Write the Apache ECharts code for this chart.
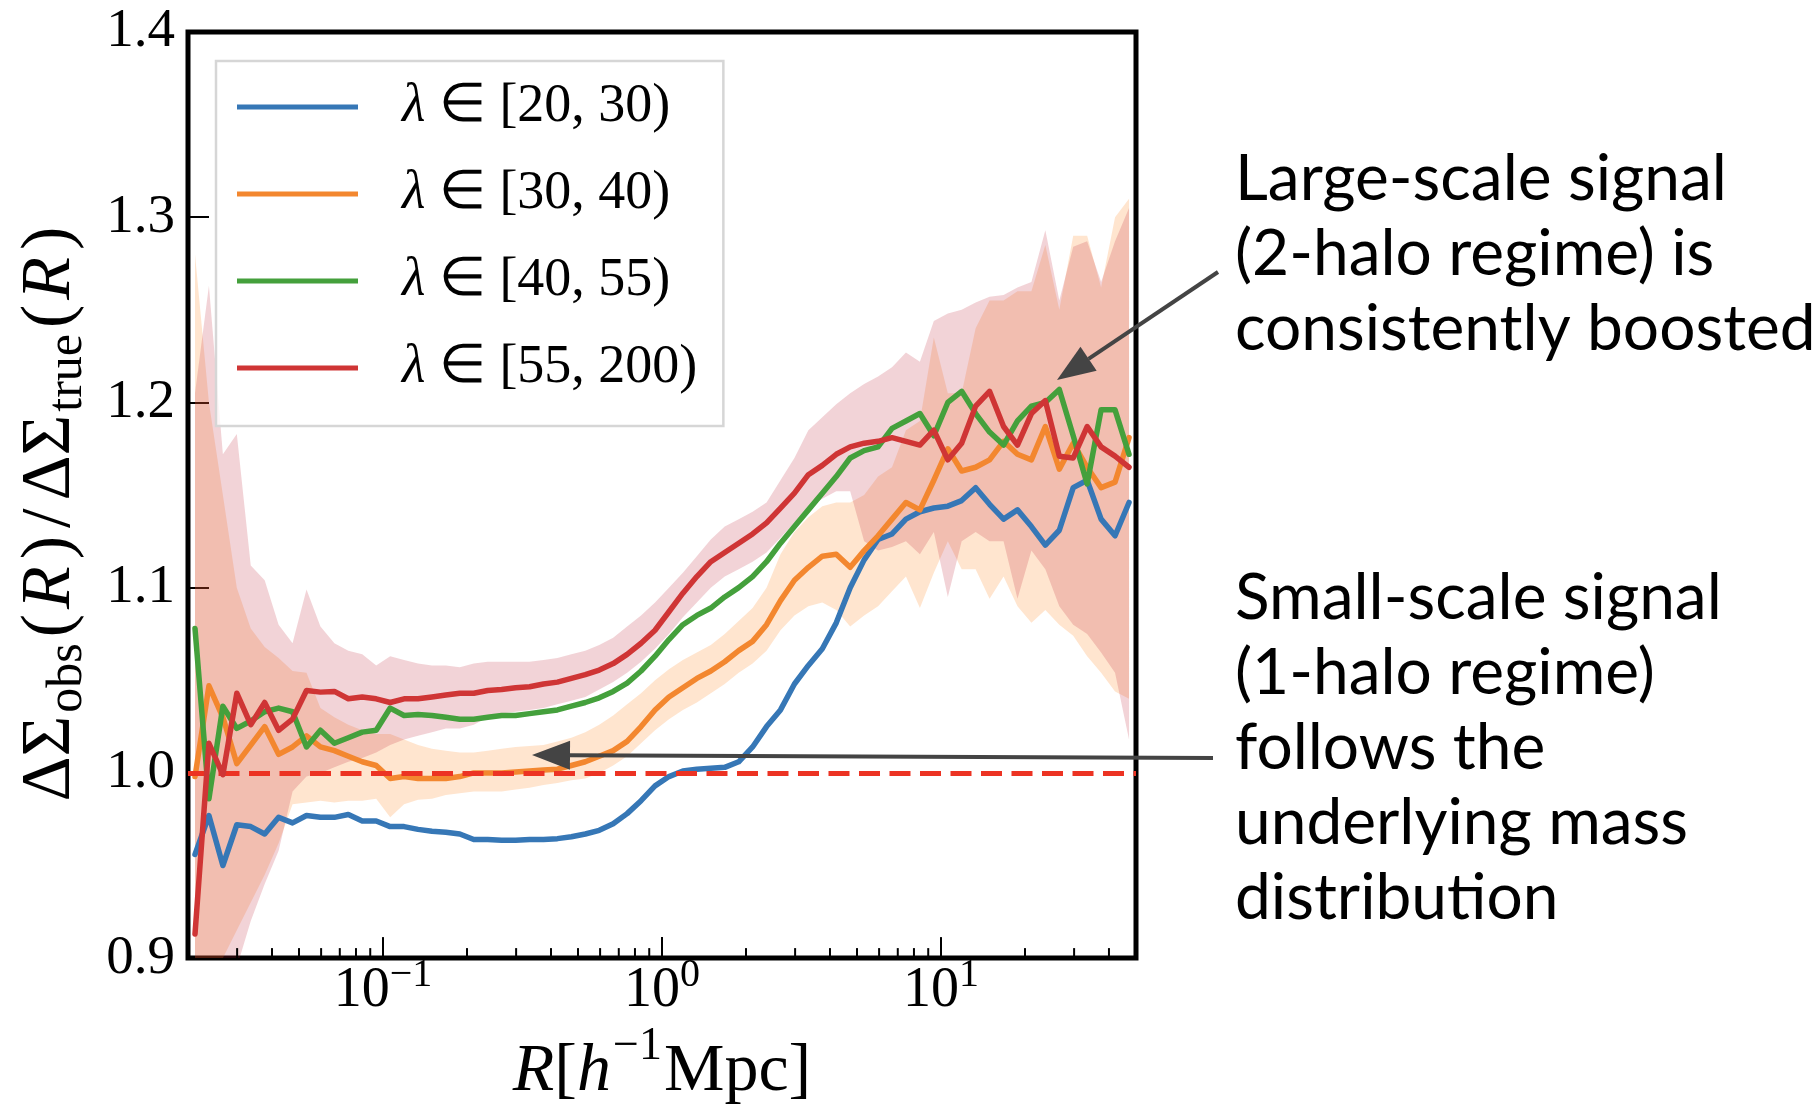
<!DOCTYPE html>
<html><head><meta charset="utf-8">
<script src="https://cdn.jsdelivr.net/npm/echarts@6.0.0/dist/echarts.min.js"></script>
<style>html,body{margin:0;padding:0;background:#fff}#c{width:1818px;height:1111px}</style>
</head><body><div id="c"></div>
<script>
// ---- data ----
const xValues = [0.02119, 0.02377, 0.02667, 0.02992, 0.03357, 0.03766, 0.04225, 0.04740, 0.05318, 0.05966,
  0.06694, 0.07510, 0.08425, 0.09454, 0.1061, 0.1190, 0.1335, 0.1498, 0.1680, 0.1885,
  0.2115, 0.2373, 0.2662, 0.2987, 0.3351, 0.3760, 0.4218, 0.4733, 0.5310, 0.5957,
  0.6683, 0.7498, 0.8412, 0.9441, 1.059, 1.188, 1.333, 1.496, 1.678, 1.883,
  2.112, 2.370, 2.659, 2.983, 3.347, 3.755, 4.213, 4.726, 5.303, 5.949,
  6.675, 7.488, 8.402, 9.426, 10.58, 11.86, 13.31, 14.93, 16.76, 18.80,
  21.09, 23.66, 26.55, 29.78, 33.41, 37.49, 42.06, 47.21];

const blue = [0.956, 0.977, 0.950, 0.972, 0.971, 0.967, 0.976, 0.973, 0.977, 0.976,
  0.976, 0.9775, 0.974, 0.974, 0.971, 0.971, 0.9695, 0.9685, 0.968, 0.967,
  0.964, 0.964, 0.9636, 0.9636, 0.964, 0.964, 0.9645, 0.9655, 0.967, 0.969,
  0.9725, 0.978, 0.985, 0.993, 0.998, 1.001, 1.002, 1.0025, 1.003, 1.006,
  1.014, 1.025, 1.034, 1.048, 1.058, 1.067, 1.081, 1.100, 1.115, 1.126,
  1.129, 1.137, 1.141, 1.143, 1.144, 1.147, 1.154, 1.145, 1.137, 1.142,
  1.133, 1.123, 1.131, 1.154, 1.158, 1.137, 1.128, 1.146];

const orange = [0.998, 1.047, 1.030, 1.005, 1.015, 1.025, 1.010, 1.014, 1.020, 1.014,
  1.012, 1.009, 1.006, 1.004, 0.997, 0.998, 0.997, 0.997, 0.997, 0.998,
  1.000, 1.000, 1.000, 1.0005, 1.001, 1.0015, 1.002, 1.004, 1.006, 1.009,
  1.012, 1.017, 1.025, 1.034, 1.041, 1.046, 1.051, 1.055, 1.060, 1.066,
  1.071, 1.080, 1.093, 1.104, 1.111, 1.117, 1.118, 1.111, 1.120, 1.128,
  1.137, 1.146, 1.142, 1.158, 1.175, 1.163, 1.165, 1.169, 1.179, 1.172,
  1.169, 1.187, 1.164, 1.178, 1.165, 1.154, 1.157, 1.181];

const green = [1.078, 0.986, 1.036, 1.024, 1.028, 1.033, 1.035, 1.033, 1.014, 1.023,
  1.016, 1.019, 1.022, 1.023, 1.035, 1.031, 1.0315, 1.031, 1.030, 1.029,
  1.029, 1.030, 1.031, 1.031, 1.032, 1.033, 1.034, 1.036, 1.038, 1.0405,
  1.044, 1.0485, 1.055, 1.063, 1.072, 1.080, 1.085, 1.089, 1.095, 1.100,
  1.106, 1.114, 1.124, 1.133, 1.142, 1.151, 1.160, 1.170, 1.174, 1.176,
  1.186, 1.190, 1.194, 1.182, 1.200, 1.206, 1.194, 1.184, 1.177, 1.190,
  1.198, 1.200, 1.207, 1.182, 1.156, 1.196, 1.196, 1.172];

const red = [0.913, 1.016, 0.999, 1.043, 1.026, 1.038, 1.023, 1.029, 1.0445, 1.0436,
  1.044, 1.040, 1.041, 1.040, 1.038, 1.040, 1.040, 1.041, 1.042, 1.043,
  1.043, 1.0445, 1.045, 1.046, 1.0465, 1.048, 1.049, 1.051, 1.053, 1.0555,
  1.059, 1.064, 1.070, 1.077, 1.087, 1.097, 1.106, 1.114, 1.119, 1.124,
  1.129, 1.135, 1.143, 1.151, 1.161, 1.166, 1.172, 1.176, 1.178, 1.179,
  1.181, 1.179, 1.177, 1.185, 1.169, 1.178, 1.198, 1.206, 1.187, 1.177,
  1.194, 1.201, 1.171, 1.170, 1.187, 1.176, 1.171, 1.165];

const redUpper = [1.205, 1.263, 1.172, 1.183, 1.112, 1.104, 1.080, 1.070, 1.099, 1.079,
  1.070, 1.066, 1.064, 1.058, 1.063, 1.061, 1.059, 1.058, 1.058, 1.057,
  1.059, 1.060, 1.060, 1.060, 1.060, 1.061, 1.062, 1.064, 1.066, 1.069,
  1.073, 1.079, 1.085, 1.092, 1.100, 1.108, 1.117, 1.126, 1.133, 1.137,
  1.141, 1.146, 1.158, 1.170, 1.185, 1.192, 1.199, 1.205, 1.210, 1.214,
  1.219, 1.227, 1.222, 1.244, 1.248, 1.250, 1.254, 1.257, 1.258, 1.262,
  1.265, 1.293, 1.255, 1.284, 1.287, 1.265, 1.287, 1.305];

const redLower = [0.870, 0.870, 0.880, 0.895, 0.920, 0.940, 0.958, 0.990, 0.998, 1.000,
  1.003, 1.006, 1.008, 1.011, 1.015, 1.018, 1.020, 1.022, 1.024, 1.024,
  1.026, 1.030, 1.032, 1.033, 1.034, 1.035, 1.037, 1.039, 1.041, 1.045,
  1.049, 1.054, 1.060, 1.067, 1.075, 1.084, 1.092, 1.100, 1.106, 1.110,
  1.114, 1.119, 1.127, 1.135, 1.143, 1.148, 1.152, 1.152, 1.125, 1.120,
  1.122, 1.125, 1.118, 1.130, 1.095, 1.125, 1.130, 1.125, 1.125, 1.094,
  1.120, 1.110, 1.090, 1.080, 1.075, 1.065, 1.054, 1.018];

const orangeUpper = [1.280, 1.200, 1.150, 1.100, 1.078, 1.068, 1.062, 1.055, 1.054, 1.035,
  1.030, 1.026, 1.023, 1.021, 1.021, 1.018, 1.015, 1.013, 1.012, 1.011,
  1.011, 1.012, 1.013, 1.014, 1.0145, 1.015, 1.017, 1.019, 1.022, 1.026,
  1.031, 1.037, 1.043, 1.050, 1.056, 1.061, 1.065, 1.069, 1.075, 1.082,
  1.089, 1.100, 1.118, 1.130, 1.138, 1.144, 1.146, 1.146, 1.150, 1.160,
  1.165, 1.185, 1.190, 1.235, 1.205, 1.205, 1.240, 1.255, 1.255, 1.260,
  1.260, 1.285, 1.250, 1.290, 1.290, 1.262, 1.300, 1.310];

const orangeLower = [0.870, 0.880, 0.900, 0.915, 0.930, 0.945, 0.962, 0.983, 0.984, 0.985,
  0.984, 0.985, 0.985, 0.986, 0.976, 0.983, 0.9855, 0.986, 0.988, 0.989,
  0.990, 0.990, 0.990, 0.991, 0.992, 0.9935, 0.9945, 0.996, 0.997, 1.000,
  1.004, 1.009, 1.016, 1.023, 1.029, 1.034, 1.038, 1.043, 1.048, 1.054,
  1.059, 1.066, 1.077, 1.085, 1.090, 1.092, 1.088, 1.079, 1.085, 1.090,
  1.098, 1.106, 1.089, 1.108, 1.125, 1.110, 1.110, 1.094, 1.106, 1.090,
  1.081, 1.088, 1.080, 1.074, 1.063, 1.054, 1.044, 1.040];

const seriesNames = ['λ ∈ [20, 30)', 'λ ∈ [30, 40)', 'λ ∈ [40, 55)', 'λ ∈ [55, 200)'];
const yTickValues = [0.9, 1.0, 1.1, 1.2, 1.3, 1.4];
const xMajorTicks = [0.1, 1, 10];
const xMinorTicks = [0.03, 0.04, 0.05, 0.06, 0.07, 0.08, 0.09,
  0.2, 0.3, 0.4, 0.5, 0.6, 0.7, 0.8, 0.9,
  2, 3, 4, 5, 6, 7, 8, 9, 20, 30, 40];
const referenceLevel = 1.0;

// ---- styles ----
const colors = ['#3677b6', '#f3872f', '#44a03c', '#cf3535'];
const serif = 'Liberation Serif';
const yMin = yTickValues[0], yMax = yTickValues[yTickValues.length - 1];

const zip = (a, b) => a.map((v, i) => [v, b[i]]);
const band = (lo, hi) => xValues.map((x, i) => [x, lo[i], hi[i]]);

function bandRender(fill) {
  return function (params, api) {
    if (params.dataIndexInside !== 0) return null;
    const n = params.dataInsideLength;
    const up = [], lo = [];
    for (let k = 0; k < n; k++) {
      const x = api.value(0, k);
      up.push(api.coord([x, api.value(2, k)]));
      lo.push(api.coord([x, api.value(1, k)]));
    }
    const cs = params.coordSys;
    return {
      type: 'polygon', silent: true,
      shape: { points: up.concat(lo.reverse()) },
      style: { fill: fill },
      clipPath: { type: 'rect', shape: { x: cs.x, y: cs.y, width: cs.width, height: cs.height } }
    };
  };
}
function tickRender(len) {
  return function (params, api) {
    const p = api.coord([api.value(0), api.value(1)]);
    return { type: 'line', silent: true,
      shape: { x1: p[0], y1: p[1], x2: p[0], y2: p[1] - len },
      style: { stroke: '#000', lineWidth: 2 } };
  };
}
function arrow(tail, tip, headLen, halfW) {
  const dx = tail[0] - tip[0], dy = tail[1] - tip[1];
  const L = Math.hypot(dx, dy), ux = dx / L, uy = dy / L;
  const bx = tip[0] + ux * headLen, by = tip[1] + uy * headLen;
  return [
    { type: 'line', z: 50, shape: { x1: tail[0], y1: tail[1], x2: bx, y2: by }, style: { stroke: '#444', lineWidth: 4 } },
    { type: 'polygon', z: 50, shape: { points: [tip, [bx - uy * halfW, by + ux * halfW], [bx + uy * halfW, by - ux * halfW]] }, style: { fill: '#444' } }
  ];
}

const lineSeries = [blue, orange, green, red].map((ys, k) => ({
  type: 'line', name: seriesNames[k], data: zip(xValues, ys),
  showSymbol: false, symbol: 'none', z: 3 + k,
  lineStyle: { color: colors[k], width: 5.5, cap: 'round', join: 'round' },
  itemStyle: { color: colors[k] },
  emphasis: { disabled: true }
}));
lineSeries[0].markLine = {
  silent: true, symbol: 'none', animation: false,
  label: { show: false },
  lineStyle: { color: '#ec3323', width: 5, type: [21, 9.5] },
  data: [{ yAxis: referenceLevel }]
};

const option = {
  animation: false,
  backgroundColor: '#fff',
  grid: { left: 188, top: 32, width: 948, height: 932.5, show: true, borderColor: '#000', borderWidth: 5, backgroundColor: 'transparent' },
  xAxis: {
    type: 'log', logBase: 10, min: 0.02, max: 50, splitNumber: 3,
    axisLine: { show: false }, axisTick: { show: false }, splitLine: { show: false }, minorTick: { show: false },
    axisLabel: {
      margin: -3, showMinLabel: false, showMaxLabel: false, color: '#000',
      formatter: function (v) {
        const e = Math.log10(v), r = Math.round(e);
        if (Math.abs(e - r) > 1e-6) return '';
        return '{b|10}{s|' + (r < 0 ? '−' + (-r) : r) + '}';
      },
      rich: {
        b: { fontFamily: serif, fontSize: 56, lineHeight: 72, color: '#000' },
        s: { fontFamily: serif, fontSize: 40, lineHeight: 34, verticalAlign: 'top', color: '#000' }
      }
    },
    name: '{i|R}{d|[}{i|h}{u|−1}{d|Mpc]}', nameLocation: 'middle', nameGap: 57,
    nameTextStyle: {
      color: '#000',
      rich: {
        i: { fontFamily: serif, fontStyle: 'italic', fontSize: 68, lineHeight: 96, color: '#000' },
        d: { fontFamily: serif, fontSize: 68, lineHeight: 96, color: '#000' },
        u: { fontFamily: serif, fontSize: 46, lineHeight: 40, verticalAlign: 'top', color: '#000', padding: [0, 2, 0, 2] }
      }
    }
  },
  yAxis: {
    type: 'value', min: yMin, max: yMax, interval: 0.1,
    axisLine: { show: false }, splitLine: { show: false },
    axisTick: { show: true, inside: true, length: 21, lineStyle: { color: '#000', width: 2 } },
    axisLabel: { margin: 13, color: '#000', fontFamily: serif, fontSize: 55, formatter: v => v.toFixed(1) },
    name: '{d|ΔΣ}{s|obs}{d|(}{i|R}{d|)}{sl|/}{d|ΔΣ}{s|true}{d|(}{i|R}{e|)}', nameLocation: 'middle', nameGap: 95, nameRotate: 90,
    nameTextStyle: {
      color: '#000',
      rich: {
        d: { fontFamily: serif, fontSize: 70, lineHeight: 84, color: '#000' },
        e: { fontFamily: serif, fontSize: 70, lineHeight: 84, color: '#000', padding: [0, 38, 0, 0] },
        sl: { fontFamily: serif, fontSize: 70, lineHeight: 84, color: '#000', padding: [0, 8, 0, 8] },
        i: { fontFamily: serif, fontStyle: 'italic', fontSize: 70, lineHeight: 84, color: '#000', padding: [0, 7, 0, 5] },
        s: { fontFamily: serif, fontSize: 50, lineHeight: 50, verticalAlign: 'bottom', color: '#000', padding: [0, 6, 0, 3] }
      }
    }
  },
  legend: {
    data: seriesNames, orient: 'vertical', left: 216, top: 61,
    padding: [16, 26, 28, 21], itemGap: 27, itemWidth: 121, itemHeight: 5, icon: 'rect',
    backgroundColor: 'rgba(255,255,255,0.8)', borderColor: '#d6d6d6', borderWidth: 2.5, borderRadius: 0,
    selectedMode: false,
    formatter: name => '{l|λ}{t|' + name.slice(1) + '}',
    textStyle: {
      color: '#000', fontFamily: serif, fontSize: 54, lineHeight: 60, padding: [0, 0, 0, 39],
      rich: {
        l: { fontFamily: serif, fontStyle: 'italic', fontSize: 54, lineHeight: 60, color: '#000' },
        t: { fontFamily: serif, fontSize: 54, lineHeight: 60, color: '#000' }
      }
    }
  },
  series: [
    { type: 'custom', name: 'band30', data: band(orangeLower, orangeUpper), encode: { x: 0, y: [1, 2] }, renderItem: bandRender('rgba(255,127,14,0.2)'), silent: true, z: 1 },
    { type: 'custom', name: 'band55', data: band(redLower, redUpper), encode: { x: 0, y: [1, 2] }, renderItem: bandRender('rgba(190,35,55,0.2)'), silent: true, z: 1 },
    ...lineSeries,
    { type: 'custom', name: 'xMajor', data: xMajorTicks.map(v => [v, yMin]), encode: { x: 0, y: 1 }, renderItem: tickRender(21), silent: true, z: 10 },
    { type: 'custom', name: 'xMinor', data: xMinorTicks.map(v => [v, yMin]), encode: { x: 0, y: 1 }, renderItem: tickRender(10), silent: true, z: 10 }
  ],
  graphic: [
    { type: 'text', x: 1235, y: 142, z: 50, style: { text: 'Large-scale signal\n(2-halo regime) is\nconsistently boosted', font: '64px Lato', lineHeight: 75, fill: '#000', align: 'left', verticalAlign: 'top' } },
    { type: 'text', x: 1235, y: 561, z: 50, style: { text: 'Small-scale signal\n(1-halo regime)\nfollows the\nunderlying mass\ndistribution', font: '64px Lato', lineHeight: 75, fill: '#000', align: 'left', verticalAlign: 'top' } },
    ...arrow([1218, 272], [1057, 380], 38, 14.5),
    ...arrow([1213, 758], [532, 755], 38, 14.5)
  ]
};

const chart = echarts.init(document.getElementById('c'), null, { renderer: 'canvas', width: 1818, height: 1111 });
chart.setOption(option);
</script></body></html>
